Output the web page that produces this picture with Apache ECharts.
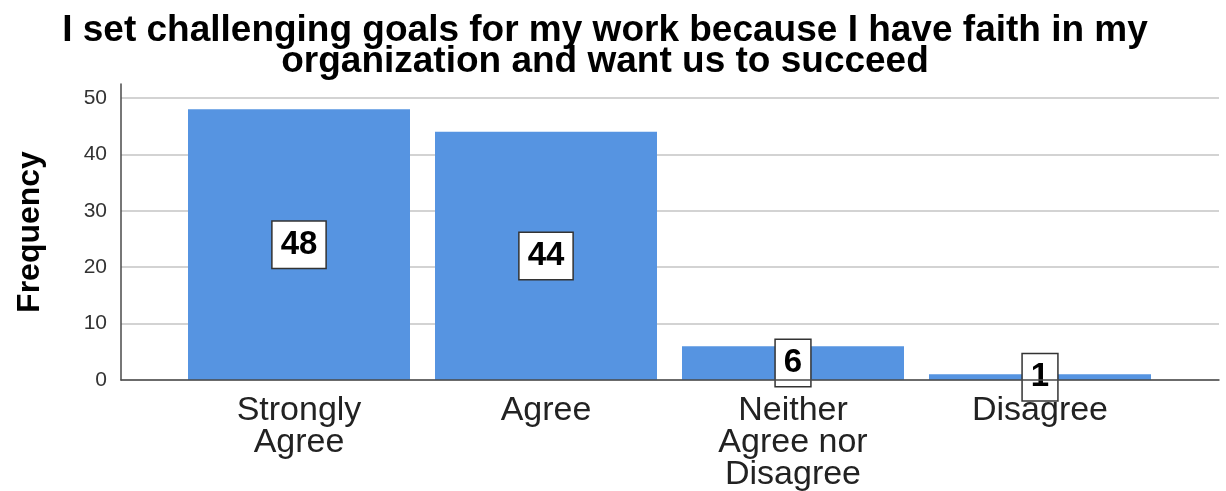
<!DOCTYPE html>
<html>
<head>
<meta charset="utf-8">
<style>
  html, body { margin: 0; padding: 0; background: #fff; }
  #chart { width: 1226px; height: 491px; }
</style>
<script src="https://cdn.jsdelivr.net/npm/echarts@6/dist/echarts.min.js"></script>
</head>
<body>
<div id="chart"></div>
<script>
// Survey item: response frequencies
const titleText = 'I set challenging goals for my work because I have faith in my\norganization and want us to succeed';
const categories = ['Strongly\nAgree', 'Agree', 'Neither\nAgree nor\nDisagree', 'Disagree'];
const frequencies = [48, 44, 6, 1];
const yTicks = { min: 0, max: 50, step: 10 };
const yAxisTitle = 'Frequency';

const FONT = '"Liberation Sans", Arial, sans-serif';
const BAR = '#5694e1';
const AXIS = '#4a4a4a';

const chart = echarts.init(document.getElementById('chart'), null, { renderer: 'canvas' });

chart.setOption({
  backgroundColor: '#ffffff',
  animation: false,
  title: {
    text: titleText,
    left: 605,
    top: 15,
    padding: 0,
    textAlign: 'center',
    textStyle: {
      fontFamily: FONT,
      fontSize: 37,
      fontWeight: 'bold',
      color: '#000',
      lineHeight: 31
    }
  },
  grid: [
    // frame: axis lines
    { left: 121, right: 7, top: 84, bottom: 111, outerBoundsMode: 'none' },
    // value scale with gridlines
    { left: 121, right: 7, top: 98, bottom: 111, outerBoundsMode: 'none' },
    // bars
    { left: 175.5, right: 62.5, top: 98, bottom: 111, outerBoundsMode: 'none' }
  ],
  xAxis: [
    {
      gridIndex: 0, type: 'value', min: 0, max: 1, z: 5,
      axisLine: { show: true, lineStyle: { color: AXIS, width: 1.5 } },
      axisTick: { show: false }, axisLabel: { show: false }, splitLine: { show: false }
    },
    {
      gridIndex: 1, type: 'value', min: 0, max: 1, show: false
    },
    {
      gridIndex: 2, type: 'category', data: categories,
      axisLine: { show: false }, axisTick: { show: false }, splitLine: { show: false },
      axisLabel: {
        interval: 0, margin: 15,
        fontFamily: FONT, fontSize: 34, lineHeight: 32, color: '#222'
      }
    }
  ],
  yAxis: [
    {
      gridIndex: 0, type: 'value', min: 0, max: 1, z: 5,
      name: yAxisTitle, nameLocation: 'middle', nameGap: 75, nameRotate: 90,
      nameTextStyle: { fontFamily: FONT, fontSize: 32, fontWeight: 'bold', color: '#000' },
      axisLine: { show: true, lineStyle: { color: AXIS, width: 1.5 } },
      axisTick: { show: false }, axisLabel: { show: false }, splitLine: { show: false }
    },
    {
      gridIndex: 1, type: 'value', min: yTicks.min, max: yTicks.max, interval: yTicks.step, z: 0,
      axisLine: { show: false }, axisTick: { show: false },
      axisLabel: { margin: 14, fontFamily: FONT, fontSize: 21, color: '#333' },
      splitLine: { show: true, lineStyle: { color: '#d3d3d3', width: 2 } }
    },
    {
      gridIndex: 2, type: 'value', min: yTicks.min, max: yTicks.max, show: false
    }
  ],
  series: [
    {
      type: 'bar',
      xAxisIndex: 2,
      yAxisIndex: 2,
      data: frequencies,
      barWidth: 222,
      itemStyle: { color: BAR },
      label: {
        show: true,
        position: 'inside',
        fontFamily: FONT,
        fontSize: 33,
        fontWeight: 'bold',
        color: '#000',
        lineHeight: 34,
        backgroundColor: '#ffffff',
        borderColor: '#333',
        borderWidth: 1.5,
        padding: [6, 8, 6, 8]
      }
    }
  ]
});
</script>
</body>
</html>
